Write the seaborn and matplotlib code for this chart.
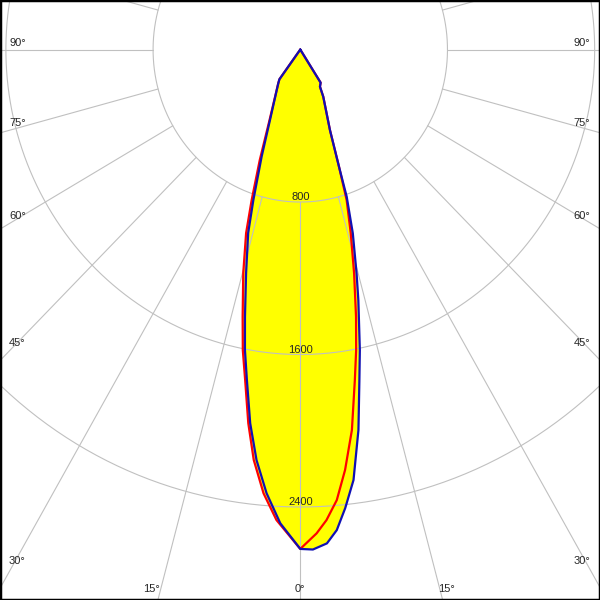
import numpy as np
import pandas as pd
import matplotlib
matplotlib.use('Agg')
import matplotlib.pyplot as plt
import seaborn as sns

# gamma angles (deg) and luminous intensity (cd) per half plane
g_c0 = [0, 1.5, 3.2, 4.5, 5.8, 7.3, 9.0, 10.5, 11.6, 13.5, 14.6, 16.5, 18.1, 18.9, 20.9, 26.8, 28.8, 32.5, 34]
c0 = [2620, 2624, 2595, 2529, 2418, 2277, 2021, 1763, 1610, 1352, 1214, 1005, 812, 650, 452, 277, 222, 206, 0]

g_c180 = [0, 2.5, 4.5, 6.3, 7.9, 9.5, 10.8, 12.1, 14.1, 16.4, 17.9, 20.5, 24.0, 34.0, 36.0, 37]
c180 = [2620, 2488, 2335, 2167, 1980, 1758, 1605, 1434, 1209, 1003, 830, 600, 405, 214, 193, 0]

g_c90 = [0, 2.0, 3.3, 4.8, 6.3, 8.0, 9.7, 10.9, 12.2, 14.0, 15.9, 17.7, 18.9, 20.9, 26.8, 28.8, 32.5, 34]
c90 = [2620, 2540, 2473, 2372, 2219, 2016, 1760, 1606, 1434, 1209, 1001, 829, 650, 452, 277, 222, 206, 0]

g_c270 = [0, 2.1, 3.0, 4.9, 6.7, 8.2, 9.8, 11.2, 12.6, 14.8, 17.0, 18.5, 20.8, 24.2, 34.0, 36.0, 37]
c270 = [2620, 2514, 2472, 2337, 2168, 1981, 1760, 1608, 1436, 1213, 1007, 833, 620, 410, 214, 193, 0]

rings = [800, 1600, 2400]
ring_labels = ['800', '1600', '2400']

# angle labels (baseline positions in px from top / left)
side_labels = ['90°', '75°', '60°', '45°', '30°']
side_label_y = [46, 126, 219, 346, 564]
bottom_labels = ['15°', '0°', '15°']
bottom_label_x = [151.5, 300, 446.5]


def plane_frame(g_left, left, g_right, right):
    gl = np.radians(g_left)[::-1]
    gr = np.radians(g_right)
    il = np.array(left, dtype=float)[::-1]
    ir = np.array(right, dtype=float)
    xs = np.concatenate([-il * np.sin(gl), ir * np.sin(gr)])
    ys = np.concatenate([-il * np.cos(gl), -ir * np.cos(gr)])
    return pd.DataFrame({'x': xs, 'y': ys})


sns.set_style('white')
plt.rcParams['font.family'] = ['Liberation Sans', 'DejaVu Sans']

blue = plane_frame(g_c180, c180, g_c0, c0)
red = plane_frame(g_c270, c270, g_c90, c90)

fig = plt.figure(figsize=(6, 6), dpi=100)
ax = fig.add_axes([0, 0, 1, 1])

ax.fill(blue['x'], blue['y'], color='#ffff00', lw=0, zorder=1)
ax.fill(red['x'], red['y'], color='#ffff00', lw=0, zorder=1)

grid_col = '#c0c0c0'
t = np.linspace(0, 2 * np.pi, 721)
for r in rings:
    ax.plot(r * np.sin(t), r * np.cos(t), color=grid_col, lw=0.8, zorder=2)
for a in range(0, 360, 15):
    ar = np.radians(a)
    ax.plot([rings[0] * np.sin(ar), 5000 * np.sin(ar)],
            [-rings[0] * np.cos(ar), -5000 * np.cos(ar)],
            color=grid_col, lw=0.8, zorder=2)

sns.lineplot(data=red, x='x', y='y', sort=False, estimator=None,
             color='#ff0000', lw=1.6, ax=ax, zorder=3)
sns.lineplot(data=blue, x='x', y='y', sort=False, estimator=None,
             color='#1010b4', lw=1.6, ax=ax, zorder=4)

for r, lab in zip(rings, ring_labels):
    ax.text(0, -r + 10, lab, ha='center', va='baseline', fontsize=8, zorder=5)

for lab, yp in zip(side_labels, side_label_y):
    ax.text(9 / 600, 1 - yp / 600, lab, ha='left', va='baseline',
            fontsize=8, transform=ax.transAxes, zorder=5)
    ax.text(590 / 600, 1 - yp / 600, lab, ha='right', va='baseline',
            fontsize=8, transform=ax.transAxes, zorder=5)
for lab, xp in zip(bottom_labels, bottom_label_x):
    ax.text(xp / 600, 1 - 592 / 600, lab, ha='center', va='baseline',
            fontsize=8, transform=ax.transAxes, zorder=5)

# slightly different horizontal / vertical scale, as in the reference
ax.set_xlim(-1632, 1629)
ax.set_ylim(-2888, 260)
ax.set_xticks([])
ax.set_yticks([])
ax.set_xlabel('')
ax.set_ylabel('')
for sp in ax.spines.values():
    sp.set_visible(True)
    sp.set_color('black')
    sp.set_linewidth(2.5)

fig.savefig('out.png', dpi=100)
